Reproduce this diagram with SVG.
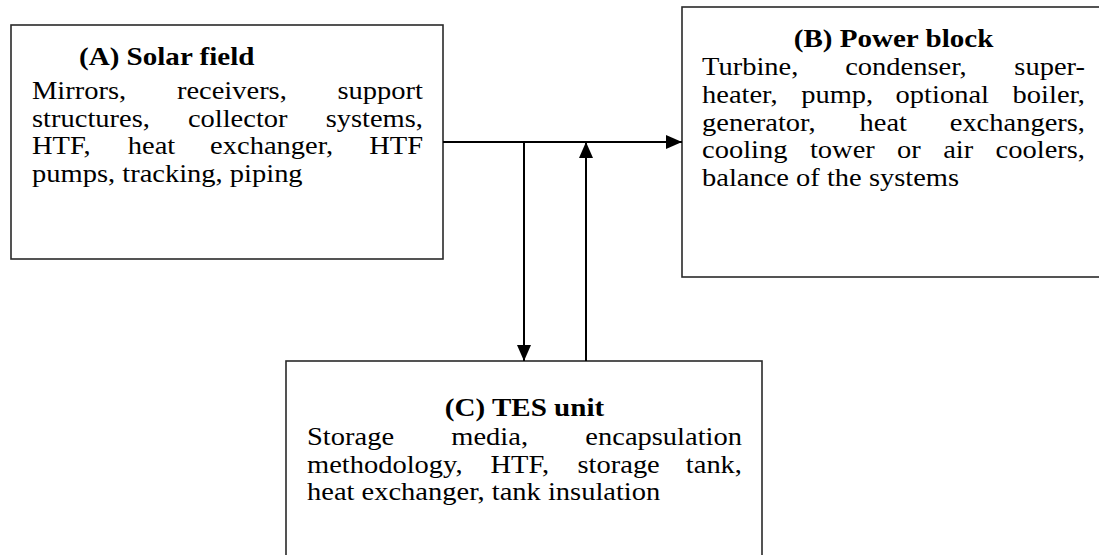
<svg xmlns="http://www.w3.org/2000/svg" width="1099" height="555" viewBox="0 0 1099 555">
<style>
.box{fill:#fff;stroke:#2a2a2a;stroke-width:1.6}
.t{font-family:"Liberation Serif","Times New Roman",serif;font-size:25px;fill:#000}
.h{font-family:"Liberation Serif","Times New Roman",serif;font-size:25.5px;font-weight:bold;fill:#000}
.e{text-anchor:end}
.m{text-anchor:middle}
.c{fill:none;stroke:#000;stroke-width:2}
</style>
<defs>
<marker id="ah" viewBox="0 0 16 14" refX="16" refY="7" markerWidth="16" markerHeight="14" markerUnits="userSpaceOnUse" orient="auto">
<path d="M0,0 L16,7 L0,14 z" fill="#000"/>
</marker>
</defs>
<rect width="1099" height="555" fill="#fff"/>
<g id="nodeA">
<rect class="box" x="11" y="25" width="432" height="234"/>
<text class="h" transform="translate(79,65) scale(1.14,1)">(A) Solar field</text>
<text class="t" transform="translate(32,99) scale(1.14,1)">Mirrors,</text>
<text class="t" transform="translate(176.9,99) scale(1.14,1)">receivers,</text>
<text class="t e" transform="translate(423,99) scale(1.14,1)">support</text>
<text class="t" transform="translate(32,127) scale(1.14,1)">structures,</text>
<text class="t" transform="translate(187.9,127) scale(1.14,1)">collector</text>
<text class="t e" transform="translate(423,127) scale(1.14,1)">systems,</text>
<text class="t" transform="translate(32,154) scale(1.14,1)">HTF,</text>
<text class="t" transform="translate(127.8,154) scale(1.14,1)">heat</text>
<text class="t" transform="translate(210.1,154) scale(1.14,1)">exchanger,</text>
<text class="t e" transform="translate(423,154) scale(1.14,1)">HTF</text>
<text class="t" transform="translate(32,182) scale(1.14,1)">pumps, tracking, piping</text>
</g>
<g id="nodeB">
<rect class="box" x="682" y="7" width="425" height="270"/>
<text class="h m" transform="translate(893.5,47) scale(1.14,1)">(B) Power block</text>
<text class="t" transform="translate(702,75) scale(1.14,1)">Turbine,</text>
<text class="t" transform="translate(845.2,75) scale(1.14,1)">condenser,</text>
<text class="t e" transform="translate(1085,75) scale(1.14,1)">super-</text>
<text class="t" transform="translate(702,103) scale(1.14,1)">heater,</text>
<text class="t" transform="translate(801.2,103) scale(1.14,1)">pump,</text>
<text class="t" transform="translate(895.6,103) scale(1.14,1)">optional</text>
<text class="t e" transform="translate(1085,103) scale(1.14,1)">boiler,</text>
<text class="t" transform="translate(702,131) scale(1.14,1)">generator,</text>
<text class="t" transform="translate(859.5,131) scale(1.14,1)">heat</text>
<text class="t e" transform="translate(1085,131) scale(1.14,1)">exchangers,</text>
<text class="t" transform="translate(702,158) scale(1.14,1)">cooling</text>
<text class="t" transform="translate(809.9,158) scale(1.14,1)">tower</text>
<text class="t" transform="translate(897.1,158) scale(1.14,1)">or</text>
<text class="t" transform="translate(943.2,158) scale(1.14,1)">air</text>
<text class="t e" transform="translate(1085,158) scale(1.14,1)">coolers,</text>
<text class="t" transform="translate(702,186) scale(1.14,1)">balance of the systems</text>
</g>
<g id="nodeC">
<rect class="box" x="286" y="361" width="476" height="220"/>
<text class="h m" transform="translate(524.5,416) scale(1.14,1)">(C) TES unit</text>
<text class="t" transform="translate(307,445) scale(1.14,1)">Storage</text>
<text class="t" transform="translate(451.3,445) scale(1.14,1)">media,</text>
<text class="t e" transform="translate(742,445) scale(1.14,1)">encapsulation</text>
<text class="t" transform="translate(307,473) scale(1.14,1)">methodology,</text>
<text class="t" transform="translate(490.5,473) scale(1.14,1)">HTF,</text>
<text class="t" transform="translate(577.5,473) scale(1.14,1)">storage</text>
<text class="t e" transform="translate(742,473) scale(1.14,1)">tank,</text>
<text class="t" transform="translate(307,500) scale(1.14,1)">heat exchanger, tank insulation</text>
</g>
<g id="connectors">
<line class="c" x1="443" y1="142" x2="682" y2="142" marker-end="url(#ah)"/>
<line class="c" x1="524" y1="142" x2="524" y2="361" marker-end="url(#ah)"/>
<line class="c" x1="586" y1="361" x2="586" y2="142" marker-end="url(#ah)"/>
</g>
</svg>
